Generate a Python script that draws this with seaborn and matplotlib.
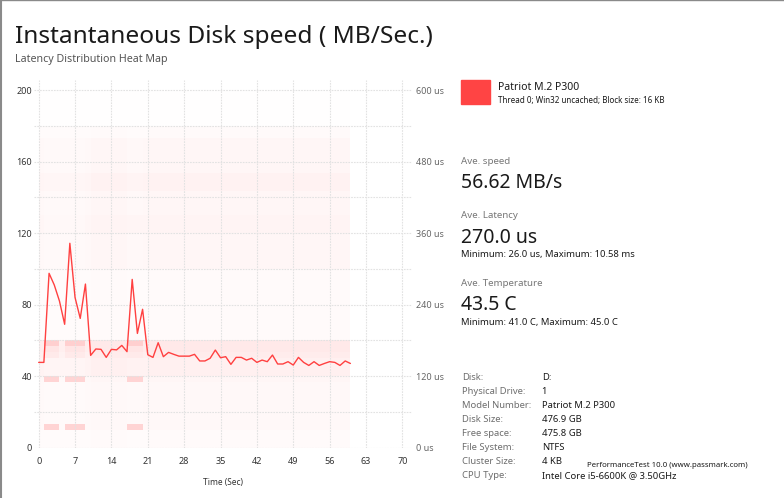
import numpy as np
import pandas as pd
import matplotlib.pyplot as plt
from matplotlib.colors import LinearSegmentedColormap
from matplotlib.patches import Rectangle
from matplotlib.lines import Line2D
import seaborn as sns

sns.set_theme(style="white")
plt.rcParams['font.family'] = ['Noto Sans', 'DejaVu Sans']

# ==============================================================================
# 1. DATA
# ==============================================================================
seconds = list(range(61))
speed_mb = [47.7, 47.7, 97.5, 91.0, 82.0, 69.0, 114.3, 84.0, 72.3, 91.5,
            51.6, 55.2, 55.0, 50.5, 55.0, 54.7, 57.2, 53.7, 94.1, 63.9,
            77.4, 52.0, 50.5, 58.7, 50.9, 53.3, 52.2, 51.2, 51.2, 51.2,
            52.2, 48.5, 48.5, 50.0, 54.6, 50.3, 50.9, 46.6, 50.5, 50.5,
            49.0, 50.0, 47.7, 49.0, 48.1, 51.8, 46.8, 46.8, 48.1, 46.2,
            50.5, 47.7, 46.0, 48.1, 46.0, 47.1, 48.1, 47.7, 46.0, 48.5, 47.1]

# latency heat map: 10 us bins (bottom -> top), one column per second
latency_bins_us = list(range(0, 600, 10))
bin_background = [0.03, 0.03, 0.03,
                  0.04, 0.04, 0.04, 0.04, 0.04, 0.04, 0.04, 0.04,
                  0.05,
                  0.08, 0.08, 0.08,
                  0.10, 0.12, 0.12,
                  0.03, 0.03, 0.03, 0.03, 0.03, 0.03, 0.03, 0.03, 0.03, 0.03, 0.03, 0.03,
                  0.05, 0.05, 0.05, 0.05, 0.05, 0.05,
                  0.06, 0.06, 0.06,
                  0.05, 0.05, 0.05, 0.05,
                  0.07, 0.07, 0.07,
                  0.05, 0.05, 0.05, 0.05, 0.05, 0.05,
                  0.03, 0.03,
                  0.01, 0.01, 0.01, 0.01, 0.01, 0.01]
second_weight = [0.8, 0.7, 0.7, 0.7, 0.7, 0.7, 0.7, 0.7, 0.7, 0.8,
                 1.0, 1.0, 1.0, 1.0, 1.0, 1.0, 1.0, 0.85, 0.85, 0.85,
                 0.9, 1.0, 1.0, 1.0, 1.0, 1.0, 1.0, 1.0, 1.0, 1.0,
                 1.0, 1.0, 1.0, 1.0, 1.0, 1.0, 1.0, 1.0, 1.0, 1.0,
                 1.0, 1.0, 1.0, 1.0, 1.0, 1.0, 1.0, 1.0, 1.0, 1.0,
                 1.0, 1.0, 1.0, 1.0, 1.0, 1.0, 1.0, 1.0, 1.0, 1.0]
hot_seconds = [1, 2, 3, 5, 6, 7, 8, 17, 18, 19]
hot_bins = [3, 11, 15, 16, 17]
hot_levels = [0.23, 0.23, 0.11, 0.14, 0.25]

right_ticks_us = [0, 120, 240, 360, 480, 600]

stats = [("Ave. speed", "56.62 MB/s", ""),
         ("Ave. Latency", "270.0 us", "Minimum: 26.0 us, Maximum: 10.58 ms"),
         ("Ave. Temperature", "43.5 C", "Minimum: 41.0 C, Maximum: 45.0 C")]
info_labels = ["Disk:", "Physical Drive:", "Model Number:", "Disk Size:",
               "Free space:", "File System:", "Cluster Size:", "CPU Type:"]
info_values = ["D:", "1", "Patriot M.2 P300", "476.9 GB", "475.8 GB",
               "NTFS", "4 KB", "Intel Core i5-6600K @ 3.50GHz"]

# build the heat table
heat = np.outer(bin_background, second_weight)
for b, lvl in zip(hot_bins, hot_levels):
    for s in hot_seconds:
        heat[b, s] = max(heat[b, s], lvl)
heat_df = pd.DataFrame(heat, index=latency_bins_us, columns=seconds[:-1])

# ==============================================================================
# 2. FIGURE
# ==============================================================================
W, H = 784, 498
RED = '#FF4040'
fig = plt.figure(figsize=(W / 100, H / 100), dpi=100)
fig.patch.set_facecolor('white')

# plot box runs a little above 200 so the vertical grid pokes out on top
Y_TOP = 205.6
ax = fig.add_axes([34 / W, 1 - 447.7 / H, 377.7 / W, 367.7 / H])
ax.set_xlim(-0.9, 71.8)
ax.set_ylim(0, Y_TOP)

cmap = LinearSegmentedColormap.from_list('heat', ['#FFFFFF', RED])
hax = ax.inset_axes([0, 0, 60, 200], transform=ax.transData, zorder=1)
sns.heatmap(heat_df.iloc[::-1], ax=hax, cmap=cmap, vmin=0, vmax=1,
            cbar=False, xticklabels=False, yticklabels=False)
hax.set_axis_off()

sns.lineplot(x=seconds, y=speed_mb, color=RED, linewidth=1.0, ax=ax, zorder=3)

ax.set_xticks(range(0, 71, 7))
ax.set_yticks(range(0, 201, 20))
ax.set_yticklabels([str(v) if v % 40 == 0 else '' for v in range(0, 201, 20)])
ax.set_axisbelow('line')
ax.grid(True, color='#E2E2E2', linestyle=(0, (1.5, 1)), linewidth=0.8)
for s in ax.spines.values():
    s.set_visible(False)
ax.tick_params(axis='x', length=3, color='#D8D8D8', labelsize=6.5,
               labelcolor='#333333', pad=4)
ax.tick_params(axis='y', length=0, labelsize=6.5, labelcolor='#333333', pad=1.5)
ax.set_xlabel('Time (Sec)', fontsize=6, color='#333333', labelpad=8)
ax.set_ylabel('')

ax2 = ax.twinx()
ax2.set_ylim(0, Y_TOP * 3)
ax2.set_yticks(right_ticks_us)
ax2.set_yticklabels([f"{v} us" for v in right_ticks_us])
ax2.tick_params(axis='y', length=0, labelsize=6.5, labelcolor='#666666', pad=3)
ax2.grid(False)
for s in ax2.spines.values():
    s.set_visible(False)


def put(x, y, s, size, color='#1A1A1A'):
    fig.text(x / W, 1 - y / H, s, fontsize=size, color=color,
             ha='left', va='baseline')


put(15, 43.3, 'Instantaneous Disk speed ( MB/Sec.)', 17.6)
put(15, 61.7, 'Latency Distribution Heat Map', 7.7, '#555555')

# legend
fig.add_artist(Rectangle((460.7 / W, 1 - 104.3 / H), 29.3 / W, 24.3 / H,
                         transform=fig.transFigure, color='#FF4444'))
put(498.3, 90, 'Patriot M.2 P300', 7.5)
put(498.3, 103.3, 'Thread 0; Win32 uncached; Block size: 16 KB', 5.8)

# statistics
stat_y = [164, 218.3, 286]
for (lab, val, sub), y in zip(stats, stat_y):
    put(460.7, y, lab, 7, '#777777')
    put(460.7, y + 24.3, val, 14)
    if sub:
        put(460.7, y + 39, sub, 6.8)

# disk info
for i, (lab, val) in enumerate(zip(info_labels, info_values)):
    y = 380.5 + i * 13.9
    put(461.7, y, lab, 6.8, '#6E6E6E')
    put(541.7, y, val, 6.8)
put(587, 467, 'PerformanceTest 10.0 (www.passmark.com)', 5.6)

# window border
fig.add_artist(Line2D([0.0015, 0.0015], [0, 1], color='#8A8A8A', lw=1.5,
                      transform=fig.transFigure))
fig.add_artist(Line2D([0, 1], [0.999, 0.999], color='#8A8A8A', lw=1.0,
                      transform=fig.transFigure))

fig.savefig('out.png', dpi=100)
plt.close()
